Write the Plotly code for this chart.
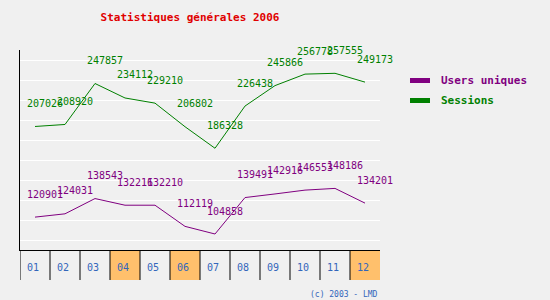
import plotly.graph_objects as go

months = ["01", "02", "03", "04", "05", "06", "07", "08", "09", "10", "11", "12"]
highlighted = ["04", "06", "12"]
users = [120901, 124031, 138543, 132216, 132210, 112119, 104858, 139491, 142916, 146553, 148186, 134201]
sessions = [207026, 208920, 247857, 234112, 229210, 206802, 186328, 226438, 245866, 256778, 257555, 249173]
series_names = ["Users uniques", "Sessions"]
series_colors = ["#800080", "#008000"]
title = "Statistiques générales 2006"
footer = "(c) 2003 - LMD"

W, H = 550, 300
L, R, T, B = 20, 170, 50, 50
PW, PH = W - L - R, H - T - B

y0, y1 = 89655, 279695
dtick = (y1 - y0) / 10

MONO = "DejaVu Sans Mono"
BLUE = "#3366bb"
ORANGE = "#ffc06c"

def px2paper_x(px):
    return (px - L) / PW

def px2paper_y(py):
    return (H - B - py) / PH

xs = list(range(len(months)))
fig = go.Figure()
for name, vals, col in zip(series_names, [users, sessions], series_colors):
    fig.add_trace(go.Scatter(x=xs, y=vals, mode="lines", name=name,
                             line=dict(color=col, width=1), showlegend=False,
                             hoverinfo="skip"))

annotations = []
shapes = []
for vals, col in zip([users, sessions], series_colors):
    for i, v in enumerate(vals):
        annotations.append(dict(x=i, y=v, xref="x", yref="y", text=str(v),
                                showarrow=False, xanchor="left", yanchor="middle",
                                xshift=-10, yshift=23,
                                font=dict(family=MONO, size=10, color=col)))

# category boxes
box_bottom = px2paper_y(280)
for i, m in enumerate(months):
    if m in highlighted:
        shapes.append(dict(type="rect", xref="x", yref="paper", x0=i - 0.5, x1=i + 0.5,
                           y0=box_bottom, y1=0, fillcolor=ORANGE, line=dict(width=0),
                           layer="below"))
    shapes.append(dict(type="line", xref="x", yref="paper", x0=i - 0.5, x1=i - 0.5,
                       y0=box_bottom, y1=0, line=dict(color="black", width=1)))
    annotations.append(dict(x=i, y=px2paper_y(267), xref="x", yref="paper", text=m,
                            showarrow=False, xanchor="left", yanchor="middle", xshift=-10,
                            font=dict(family=MONO, size=10, color=BLUE)))

# legend
for k, (name, col) in enumerate(zip(series_names, series_colors)):
    yy = px2paper_y(80.5 + 20 * k)
    shapes.append(dict(type="line", xref="paper", yref="paper",
                       x0=px2paper_x(410), x1=px2paper_x(430), y0=yy, y1=yy,
                       line=dict(color=col, width=5)))
    annotations.append(dict(x=px2paper_x(439), y=yy, xref="paper", yref="paper",
                            text="<b>%s</b>" % name, showarrow=False,
                            xanchor="left", yanchor="middle",
                            font=dict(family=MONO, size=11, color=col)))

annotations.append(dict(x=1, y=px2paper_y(294), xref="paper", yref="paper", text=footer,
                        showarrow=False, xanchor="right", yanchor="middle",
                        font=dict(family=MONO, size=8, color=BLUE)))

fig.update_layout(
    width=W, height=H,
    margin=dict(l=L, r=R, t=T, b=B, pad=0),
    paper_bgcolor="#f0f0f0", plot_bgcolor="#f0f0f0",
    title=dict(text="<b>%s</b>" % title, x=190 / W, xanchor="center",
               y=1 - 17 / H, yanchor="middle",
               font=dict(family=MONO, size=11, color="#e00000")),
    xaxis=dict(range=[-0.5, len(months) - 0.5], showgrid=False, zeroline=False,
               showticklabels=False, ticks="", showline=True, linecolor="black",
               linewidth=1, fixedrange=True),
    yaxis=dict(range=[y0, y1], tick0=y0 + dtick / 2, dtick=dtick, showgrid=True,
               gridcolor="white", gridwidth=1, zeroline=False, showticklabels=False,
               ticks="", showline=True, linecolor="black", linewidth=1, fixedrange=True),
    shapes=shapes, annotations=annotations, showlegend=False,
)

fig.write_html("out.html", config={"displayModeBar": False})
